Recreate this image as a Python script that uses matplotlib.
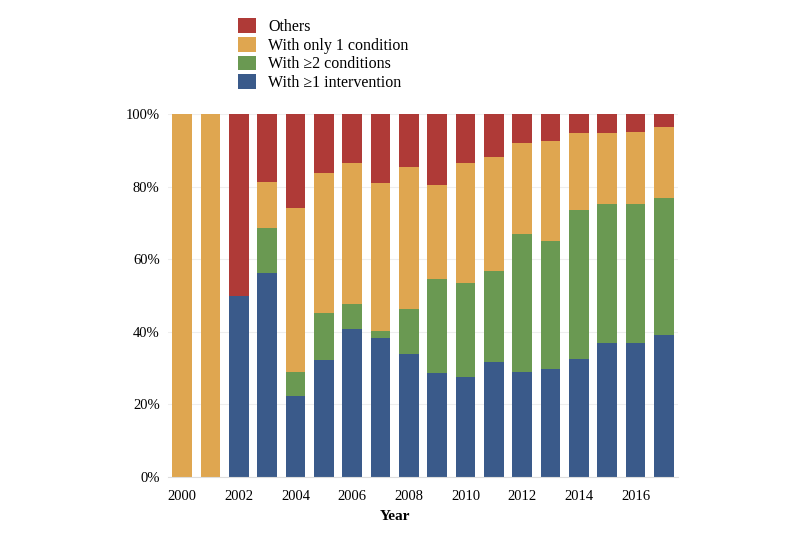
import numpy as np
import matplotlib.pyplot as plt
from matplotlib.patches import Patch

plt.rcParams['font.family'] = ['Liberation Serif', 'DejaVu Serif']

years = list(range(2000, 2018))
# shares in %
intervention = [0, 0, 50.0, 56.2, 22.4, 32.2, 40.8, 38.3, 34.0, 28.7, 27.6, 31.6, 28.8, 29.7, 32.4, 36.9, 36.9, 39.2]
two_cond = [0, 0, 0, 12.5, 6.5, 12.9, 6.9, 2.0, 12.3, 25.9, 25.8, 25.2, 38.2, 35.2, 41.2, 38.4, 38.3, 37.7]
one_cond = [100, 100, 0, 12.5, 45.2, 38.8, 38.7, 40.6, 39.0, 25.8, 33.1, 31.3, 24.9, 27.6, 21.1, 19.5, 19.8, 19.5]
others = [0, 0, 50.0, 18.8, 25.9, 16.1, 13.6, 19.1, 14.7, 19.6, 13.5, 11.9, 8.1, 7.5, 5.3, 5.2, 5.0, 3.6]

labels = ['With \u22651 intervention', 'With \u22652 conditions', 'With only 1 condition', 'Others']
colors = ['#3A5A8A', '#6A9952', '#DFA650', '#AF3A37']

fig = plt.figure(figsize=(8, 5.33), dpi=100)
ax = fig.add_axes([0.21, 0.105, 0.6375, 0.681])

x = np.arange(len(years))
bottom = np.zeros(len(years))
for vals, c in zip([intervention, two_cond, one_cond, others], colors):
    v = np.array(vals) / 100.0
    ax.bar(x, v, width=0.7, bottom=bottom, color=c, zorder=2)
    bottom += v

ax.set_xlim(-0.5, len(years) - 0.5)
ax.set_ylim(0, 1)
ax.set_yticks(np.arange(0, 1.01, 0.2))
ax.set_yticklabels(['%d%%' % (t * 100) for t in np.arange(0, 1.01, 0.2)])
ax.set_xticks(x[::2])
ax.set_xticklabels([str(y) for y in years[::2]])
ax.tick_params(axis='y', length=0, labelsize=10.5, pad=6)
ax.tick_params(axis='x', length=0, labelsize=10.5, pad=9)
ax.grid(axis='y', color='#eeeeee', linewidth=0.8, zorder=0)
for s in ['top', 'right', 'left']:
    ax.spines[s].set_visible(False)
ax.spines['bottom'].set_color('#dddddd')

fig.text(395 / 800, 1 - 517 / 533, 'Year', ha='center', va='center', fontsize=11, fontweight='bold')

handles = [Patch(facecolor=c) for c in colors[::-1]]
fig.legend(handles, labels[::-1], loc='upper left', bbox_to_anchor=(230 / 800, 1 - 10 / 533),
           frameon=False, fontsize=11.5, handlelength=1.1, handleheight=1.05,
           handletextpad=0.8, labelspacing=0.12, borderpad=0)

fig.savefig('out.png', dpi=100)
